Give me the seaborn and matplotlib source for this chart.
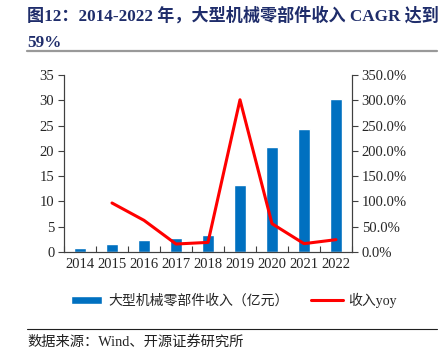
import matplotlib
matplotlib.use("Agg")
import matplotlib.pyplot as plt
import matplotlib.lines as mlines
from matplotlib.ticker import PercentFormatter, FixedLocator
import numpy as np
import pandas as pd
import seaborn as sns

# data
years = [2014, 2015, 2016, 2017, 2018, 2019, 2020, 2021, 2022]
revenue = [0.7, 1.5, 2.4, 2.7, 3.3, 13.3, 20.8, 24.4, 30.3]
yoy = [np.nan, 96.9, 62.6, 15.8, 19.0, 301.0, 56.0, 16.5, 24.4]

bar_label = "大型机械零部件收入（亿元）"
line_label = "收入yoy"
title_text = "图12：2014-2022 年，大型机械零部件收入 CAGR 达到\n59%"
source_text = "数据来源：Wind、开源证券研究所"

sns.set_style("white")
plt.rcParams['font.family'] = ['Liberation Serif', 'Noto Sans CJK SC', 'DejaVu Sans']

df = pd.DataFrame({"year": [str(y) for y in years], "revenue": revenue,
                   "pos": np.arange(len(years)), "yoy": yoy})

fig = plt.figure(figsize=(4.43, 3.54), dpi=100)
ax = fig.add_axes([64 / 443, 1 - 252 / 354, 288 / 443, 177 / 354])

sns.barplot(data=df, x="year", y="revenue", color="#0070C0", width=0.4,
            saturation=1, ax=ax)
ax.set_xlim(-0.5, len(years) - 0.5)
ax.set_ylim(0, 35)
ax.set_yticks(np.arange(0, 36, 5))
ax.set_xlabel("")
ax.set_ylabel("")

ax2 = ax.twinx()
sns.lineplot(data=df.dropna(), x="pos", y="yoy", color="#FF0000", lw=2.2,
             ax=ax2, legend=False)
ax2.set_ylim(0, 350)
ax2.set_yticks(np.arange(0, 351, 50))
ax2.yaxis.set_major_formatter(PercentFormatter(decimals=1))
ax2.set_ylabel("")
ax2.set_xlabel("")

for a in (ax, ax2):
    for s in a.spines.values():
        s.set_color("#404040")
        s.set_linewidth(0.8)
    a.spines["top"].set_visible(False)

ax.tick_params(axis="y", direction="out", length=4, width=0.8, color="#404040",
               labelsize=10.5, pad=3, left=True)
ax2.tick_params(axis="y", direction="out", length=4, width=0.8, color="#404040",
                labelsize=10.5, pad=3, right=True)
ax.tick_params(axis="x", length=0, labelsize=10.5, pad=4)
ax.xaxis.set_minor_locator(FixedLocator(np.arange(-0.5, len(years), 1.0)))
ax.tick_params(axis="x", which="minor", direction="in", length=4, width=0.8,
               color="#404040", bottom=True)

# legend
h1 = ax.patches[0]
h2 = mlines.Line2D([], [], color="#FF0000", lw=2.2)
fig.legend([h1, h2], [bar_label, line_label], loc="center left",
           bbox_to_anchor=(58 / 443, 1 - 300 / 354), ncol=2, frameon=False,
           handlelength=2.3, handleheight=0.5,
           handletextpad=0.4, columnspacing=1.6,
           prop={'family': ['Liberation Serif', 'Noto Sans CJK SC'], 'size': 10})

# title, rules and source
fig.text(27 / 443, 1 - 7 / 354, title_text, ha="left", va="top", fontsize=12.3,
         fontweight="bold", color="#1F2D6B", linespacing=1.85)
fig.add_artist(mlines.Line2D([27 / 443, 437 / 443], [1 - 51 / 354] * 2,
                             color="#999999", lw=1.6))
fig.add_artist(mlines.Line2D([27 / 443, 437 / 443], [1 - 329 / 354] * 2,
                             color="#202020", lw=0.8))
fig.text(27 / 443, 1 - 342 / 354, source_text, ha="left", va="center",
         fontsize=10.3, color="#202020")

fig.savefig("out.png", dpi=100)
